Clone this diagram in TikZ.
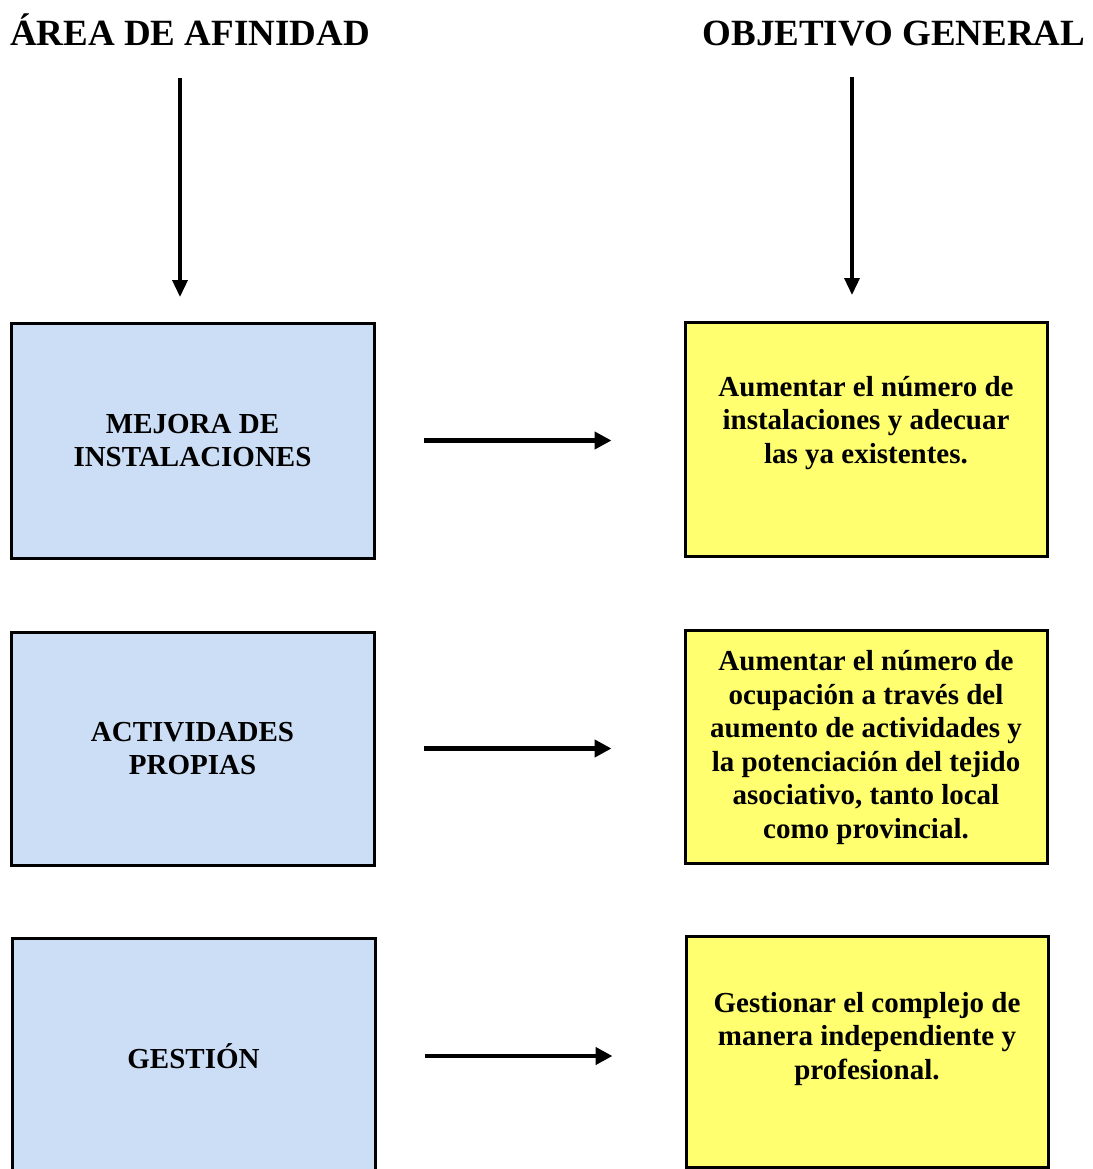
\documentclass[tikz,border=0pt]{standalone}
\usepackage{fontspec}
\setmainfont{Liberation Serif}
\usetikzlibrary{arrows.meta}
\definecolor{boxblue}{RGB}{204,222,246}
\definecolor{boxyellow}{RGB}{255,255,112}
\begin{document}
\begin{tikzpicture}[x=1pt,y=-1pt,
  titletext/.style={font=\fontsize{37}{40}\selectfont\bfseries, inner sep=0pt, anchor=base},
  areabox/.style={draw=black, line width=3pt, fill=boxblue, minimum width=363pt, inner sep=0pt,
    align=center, font=\fontsize{29}{33.5}\selectfont\bfseries},
  goalbox/.style={draw=black, line width=3pt, fill=boxyellow, minimum width=362pt, inner sep=0pt},
  goaltext/.style={align=center, inner sep=0pt, font=\fontsize{29}{33.5}\selectfont\bfseries},
  downarrow/.style={line width=3.5pt, -{Triangle[length=17pt,width=15pt]}},
  rightarrow/.style={line width=4.5pt, -{Triangle[length=17pt,width=17pt]}, shorten <=48pt, shorten >=72pt}
]
\useasboundingbox (0,0) rectangle (1092,1169);
\fill[white] (0,0) rectangle (1092,1169);

% titles
\node[titletext] (tl) at (190,46) {ÁREA DE AFINIDAD};
\node[titletext] (tr) at (894,46) {OBJETIVO GENERAL};

% left column boxes
\node[areabox, minimum height=235pt] (L1) at (192.5,440.5) {MEJORA DE\\INSTALACIONES};
\node[areabox, minimum height=233pt] (L2) at (192.5,748.5) {ACTIVIDADES\\PROPIAS};
\node[areabox, minimum height=236pt] (L3) at (193.5,1056) {GESTIÓN};

% right column boxes
\node[goalbox, minimum height=234pt] (R1) at (866,439) {};
\node[goalbox, minimum height=233pt] (R2) at (866,746.5) {};
\node[goalbox, minimum height=231pt] (R3) at (867,1051.5) {};

\node[goaltext] (T1) at (866,423) {Aumentar el número de\\instalaciones y adecuar\\las ya existentes.};
\node[goaltext] (T2) at (866,747.5) {Aumentar el número de\\ocupación a través del\\aumento de actividades y\\la potenciación del tejido\\asociativo, tanto local\\como provincial.};
\node[goaltext] (T3) at (867,1039) {Gestionar el complejo de\\manera independiente y\\profesional.};

% vertical arrows
\coordinate (vl1) at (180,78);
\coordinate (vl2) at (180,297);
\coordinate (vr1) at (852,77);
\coordinate (vr2) at (852,295);
\draw[downarrow] (vl1) -- (vl2);
\draw[downarrow] (vr1) -- (vr2);

% horizontal arrows
\draw[rightarrow] (L1.east) -- (L1.east -| R1.west);
\draw[rightarrow] (L2.east) -- (L2.east -| R2.west);
\draw[rightarrow] (L3.east) -- (L3.east -| R3.west);
\end{tikzpicture}
\end{document}
